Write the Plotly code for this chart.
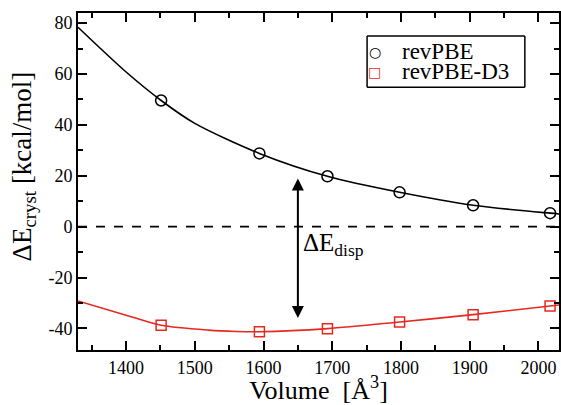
import plotly.graph_objects as go

# Data
volume = [1451, 1594, 1693, 1798, 1905, 2017]
revpbe = [49.6, 28.8, 19.8, 13.5, 8.4, 5.3]
revpbe_d3 = [-38.8, -41.3, -40.1, -37.5, -34.6, -31.2]

# Fitted curves
fit_x = [1330, 1400, 1451, 1500, 1594, 1693, 1798, 1905, 2017, 2030]
fit_revpbe = [78.4, 60.8, 49.6, 40.6, 28.8, 19.8, 13.5, 8.4, 5.3, 5.0]
fit_x_d3 = [1330, 1400, 1451, 1520, 1560, 1594, 1693, 1798, 1905, 2017, 2030]
fit_revpbe_d3 = [-29.2, -34.8, -38.8, -40.7, -41.2, -41.3, -40.1, -37.5, -34.6, -31.2, -30.8]

series_names = ["revPBE", "revPBE-D3"]
x_ticks = [1400, 1500, 1600, 1700, 1800, 1900, 2000]
y_ticks = [-40, -20, 0, 20, 40, 60, 80]

FONT = "Liberation Serif, Times New Roman, serif"
RED = "#e8281e"

fig = go.Figure()
fig.add_trace(go.Scatter(x=fit_x, y=fit_revpbe, mode="lines", line=dict(color="black", width=1.6, shape="spline", smoothing=0.8),
                         showlegend=False, hoverinfo="skip"))
fig.add_trace(go.Scatter(x=fit_x_d3, y=fit_revpbe_d3, mode="lines", line=dict(color=RED, width=1.6, shape="spline", smoothing=0.8),
                         showlegend=False, hoverinfo="skip"))
fig.add_trace(go.Scatter(x=volume, y=revpbe, mode="markers", name=series_names[0], showlegend=False,
                         marker=dict(symbol="circle-open", size=11, color="black", line=dict(width=1.5))))
fig.add_trace(go.Scatter(x=volume, y=revpbe_d3, mode="markers", name=series_names[1], showlegend=False,
                         marker=dict(symbol="square-open", size=10, color=RED, line=dict(width=1.5))))

shapes = [
    # zero line
    dict(type="line", xref="x domain", x0=0, x1=1, yref="y", y0=0, y1=0,
         line=dict(color="black", width=1.6, dash="dash")),
]
# legend frame as four edges
LX0, LX1, LY0, LY1 = 0.601, 0.929, 0.780, 0.932
for (a0, b0, a1, b1) in [(LX0, LY0, LX1, LY0), (LX0, LY1, LX1, LY1), (LX0, LY0, LX0, LY1), (LX1, LY0, LX1, LY1)]:
    shapes.append(dict(type="line", xref="x domain", yref="y domain", x0=a0, y0=b0, x1=a1, y1=b1,
                       line=dict(color="black", width=1.5)))

annotations = [
    # dispersion arrow + label
    dict(x=1650, y=18.9, ax=1650, ay=-36.5, xref="x", yref="y", axref="x", ayref="y",
         text="", showarrow=True, arrowhead=2, startarrowhead=2, arrowside="end+start",
         arrowsize=1.2, arrowwidth=2, arrowcolor="black"),
    dict(x=1655, y=-7, xref="x", yref="y", text="ΔE<sub>disp</sub>", showarrow=False,
         xanchor="left", yanchor="middle", font=dict(family=FONT, size=25, color="black")),
    # y-axis title
    dict(x=-0.112, y=0.545, xref="paper", yref="paper", text="ΔE<sub>cryst</sub> [kcal/mol]",
         showarrow=False, textangle=-90, xanchor="center", yanchor="middle",
         font=dict(family=FONT, size=27, color="black")),
]
legend_rows = [(0.885, "○", "black"), (0.825, "□", RED)]
for (ly, sym, col), name in zip(legend_rows, series_names):
    annotations.append(dict(x=0.617, y=ly, xref="paper", yref="paper", text=sym, showarrow=False,
                            xanchor="center", yanchor="middle", font=dict(family="DejaVu Sans", size=14, color=col)))
    annotations.append(dict(x=0.670, y=ly, xref="paper", yref="paper", text=name, showarrow=False,
                            xanchor="left", yanchor="middle", font=dict(family=FONT, size=23, color="black")))

axis_common = dict(showline=True, linecolor="black", linewidth=2, mirror="ticks", ticks="inside",
                   ticklen=9, tickwidth=2, tickcolor="black", showgrid=False, zeroline=False,
                   automargin=False, tickfont=dict(family=FONT, size=18, color="black"))

fig.update_xaxes(range=[1330, 2030], tickvals=x_ticks, ticktext=[str(v) for v in x_ticks],
                 minor=dict(dtick=50, ticks="inside", ticklen=5, tickwidth=2, tickcolor="black"),
                 title=dict(text="Volume  [Å<sup>3</sup>]", font=dict(family=FONT, size=26, color="black"), standoff=2),
                 **axis_common)
fig.update_yaxes(range=[-48.5, 84], tickvals=y_ticks, ticktext=[str(v) for v in y_ticks],
                 minor=dict(dtick=10, ticks="inside", ticklen=5, tickwidth=2, tickcolor="black"),
                 **axis_common)

fig.update_layout(width=561, height=405, margin=dict(l=78, r=2, t=13, b=55),
                  font=dict(family=FONT, color="black"), shapes=shapes, annotations=annotations,
                  plot_bgcolor="white", paper_bgcolor="white", showlegend=False)

fig.write_html("out.html", config={"displayModeBar": False},
               post_script="document.body.style.margin='0';document.body.style.overflow='hidden';")
